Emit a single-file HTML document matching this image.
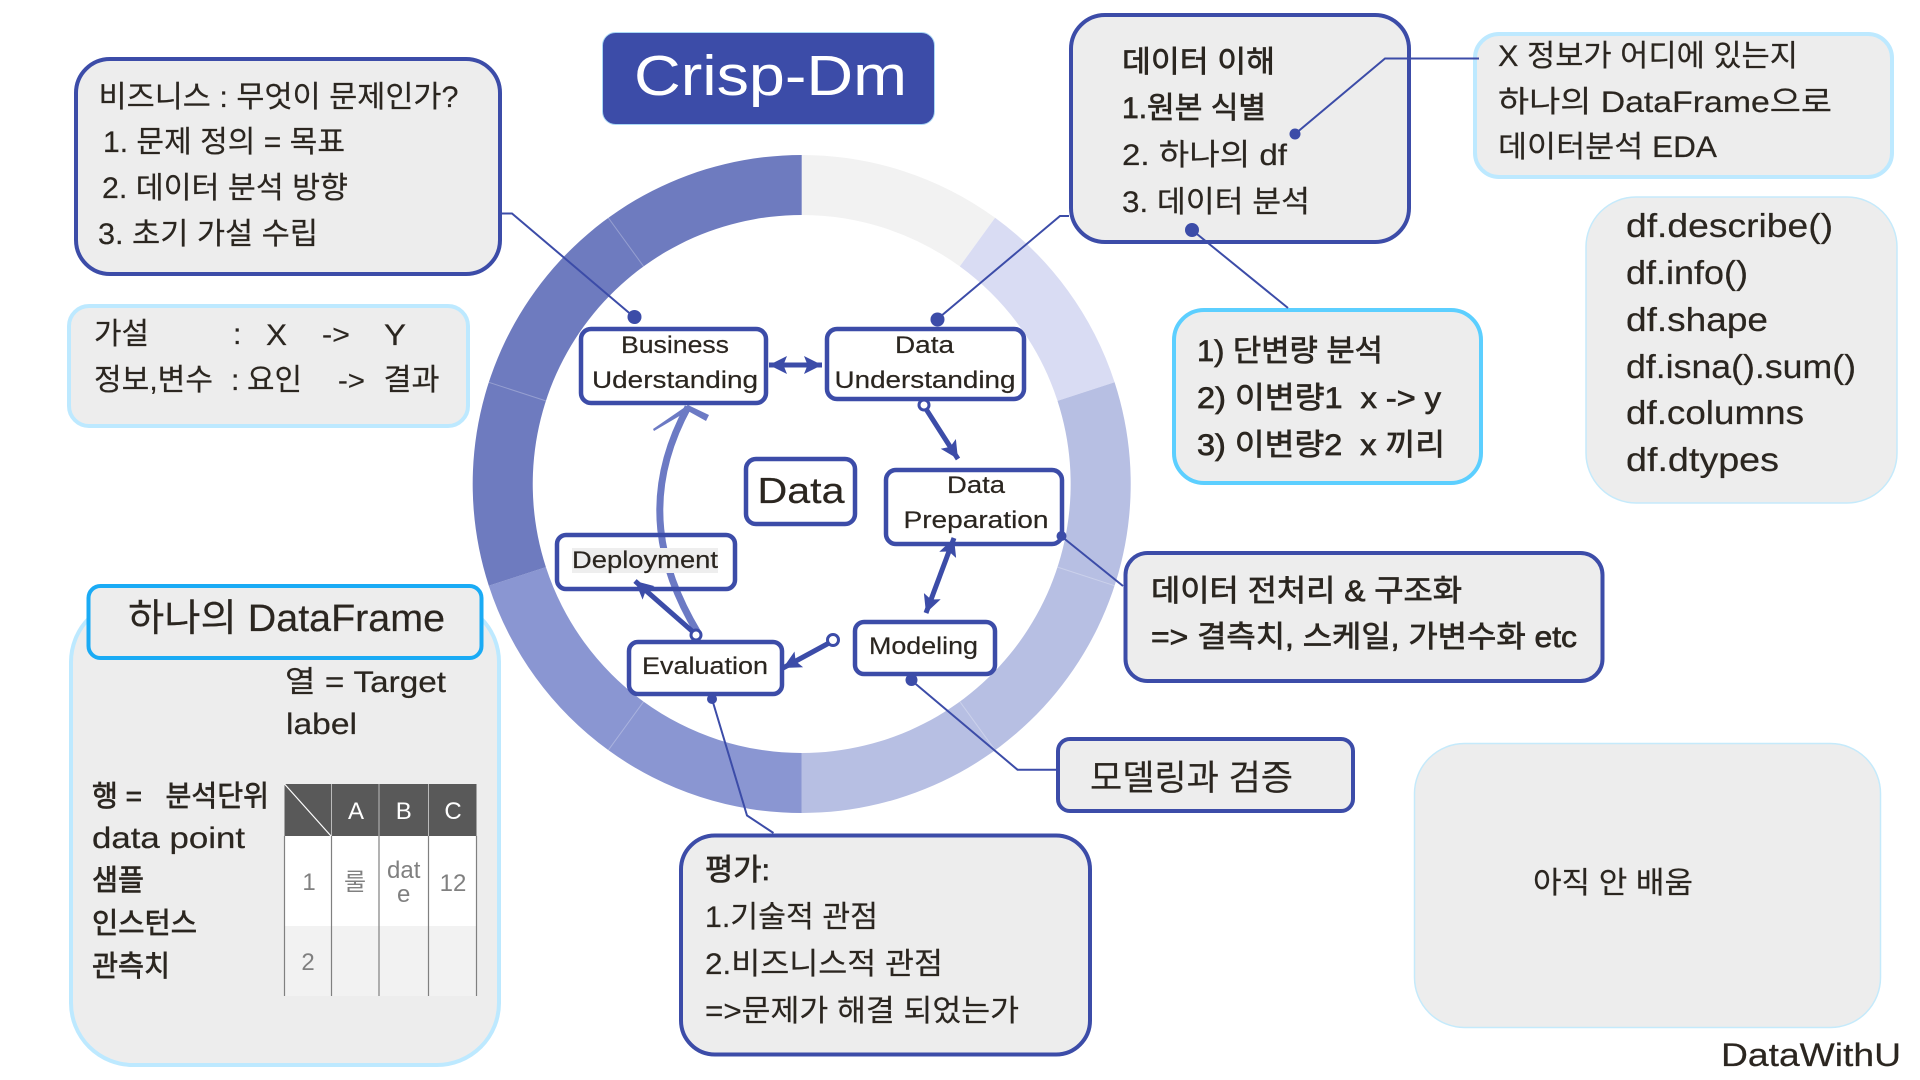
<!DOCTYPE html>
<html><head><meta charset="utf-8"><title>Crisp-Dm</title>
<style>
html,body{margin:0;padding:0;background:#fff;width:1920px;height:1080px;overflow:hidden}
svg{display:block}
text{font-family:"Liberation Sans","Noto Sans CJK KR",sans-serif;fill:#2b2620;white-space:pre;stroke:#2b2620;stroke-width:.2px}
.b{stroke:#2b2620;stroke-width:.7px}
.n{fill:#fff;stroke:#3c4ca8;stroke-width:4.5}
.c{fill:#ededed;stroke:#3c4ca8;stroke-width:4}
.l{fill:#ededed;stroke:#bde9ff;stroke-width:4}
.t{fill:#ededed;stroke:#c5eafb;stroke-width:1.5}
.w{fill:none;stroke:#3c4ca8;stroke-width:2}
.a{fill:none;stroke:#3c4ca8;stroke-width:5}
.d{fill:#3c4ca8}
.o{fill:#fff;stroke:#3c4ca8;stroke-width:3}
.g{stroke:#808080;stroke-width:1.2}
.s{stroke:#fff;stroke-opacity:.28;stroke-width:1}
.nf{stroke:none}
</style></head><body>
<svg width="1920" height="1080" viewBox="0 0 1920 1080" xmlns="http://www.w3.org/2000/svg">
<defs>
<marker id="h" viewBox="0 0 10 10" refX="10" refY="5" markerWidth="20" markerHeight="18" markerUnits="userSpaceOnUse" orient="auto-start-reverse"><path d="M0 0L10 5L0 10L2 5z" fill="#3c4ca8"/></marker>
</defs>

<!-- ring -->
<g transform="translate(.7 0)">
<path fill="#f2f2f2" d="M801 155A329 329 0 0 1 994.4 217.8L959.1 266.4A269 269 0 0 0 801 215Z"/>
<path fill="#d9dcf3" d="M994.4 217.8A329 329 0 0 1 1113.9 382.3L1056.8 400.9A269 269 0 0 0 959.1 266.4Z"/>
<path fill="#b7bfe3" d="M1113.9 382.3A329 329 0 0 1 801 813L801 753A269 269 0 0 0 1056.8 400.9Z"/>
<path fill="#8a96d2" d="M801 813A329 329 0 0 1 488.1 585.7L545.2 567.1A269 269 0 0 0 801 753Z"/>
<path fill="#6e7bbf" d="M488.1 585.7A329 329 0 0 1 801 155L801 215A269 269 0 0 0 545.2 567.1Z"/>
<line class="s" x1="1113.9" y1="585.7" x2="1056.8" y2="567.1"/>
<line class="s" x1="994.4" y1="750.2" x2="959.1" y2="701.6"/>
<line class="s" x1="607.6" y1="750.2" x2="642.9" y2="701.6"/>
<line class="s" x1="488.1" y1="382.3" x2="545.2" y2="400.9"/>
<line class="s" x1="607.6" y1="217.8" x2="642.9" y2="266.4"/>
</g>

<!-- title -->
<rect x="602.5" y="32.5" width="332" height="92" rx="13" fill="#3c4ca8" stroke="#a9d8f5" stroke-width="1"/>
<text class="nf" x="634" y="95" font-size="57" style="fill:#fff" textLength="273" lengthAdjust="spacingAndGlyphs">Crisp-Dm</text>

<!-- callouts -->
<rect class="c" x="76" y="59" width="424" height="215" rx="34"/>
<text x="98.5" y="107" font-size="30" textLength="360" lengthAdjust="spacingAndGlyphs">비즈니스 : 무엇이 문제인가?</text>
<text x="103" y="152" font-size="30" textLength="242" lengthAdjust="spacingAndGlyphs">1. 문제 정의 = 목표</text>
<text x="102" y="198" font-size="30" textLength="246" lengthAdjust="spacingAndGlyphs">2. 데이터 분석 방향</text>
<text x="98" y="244" font-size="30" textLength="220" lengthAdjust="spacingAndGlyphs">3. 초기 가설 수립</text>

<rect class="l" x="69" y="306" width="399" height="120" rx="20"/>
<text x="94" y="344" font-size="30" textLength="55" lengthAdjust="spacingAndGlyphs">가설</text>
<text x="233" y="344" font-size="30">:</text>
<text x="266" y="345" font-size="30" textLength="21" lengthAdjust="spacingAndGlyphs">X</text>
<text x="322" y="344" font-size="28" textLength="28" lengthAdjust="spacingAndGlyphs">-&gt;</text>
<text x="384" y="345" font-size="30" textLength="22" lengthAdjust="spacingAndGlyphs">Y</text>
<text x="94" y="390" font-size="30" textLength="119" lengthAdjust="spacingAndGlyphs">정보,변수</text>
<text x="231" y="390" font-size="30">:</text>
<text x="247" y="390" font-size="30" textLength="55" lengthAdjust="spacingAndGlyphs">요인</text>
<text x="338" y="390" font-size="28" textLength="27" lengthAdjust="spacingAndGlyphs">-&gt;</text>
<text x="383.5" y="390" font-size="30" textLength="56" lengthAdjust="spacingAndGlyphs">결과</text>

<rect class="c" x="1071" y="15" width="338" height="227" rx="34"/>
<text class="b" x="1122" y="72" font-size="30" textLength="153" lengthAdjust="spacingAndGlyphs">데이터 이해</text>
<text class="b" x="1122" y="118" font-size="30" textLength="144" lengthAdjust="spacingAndGlyphs">1.원본 식별</text>
<text x="1122" y="165" font-size="30" textLength="165" lengthAdjust="spacingAndGlyphs">2. 하나의 df</text>
<text x="1122" y="212" font-size="30" textLength="188" lengthAdjust="spacingAndGlyphs">3. 데이터 분석</text>

<rect class="l" x="1475" y="34" width="417" height="143" rx="24"/>
<text x="1498" y="66" font-size="30" textLength="300" lengthAdjust="spacingAndGlyphs">X 정보가 어디에 있는지</text>
<text x="1498" y="112" font-size="30" textLength="334" lengthAdjust="spacingAndGlyphs">하나의 DataFrame으로</text>
<text x="1498" y="157" font-size="30" textLength="219" lengthAdjust="spacingAndGlyphs">데이터분석 EDA</text>

<rect class="t" x="1586" y="197" width="311" height="306" rx="50"/>
<text x="1626" y="237" font-size="33" textLength="207" lengthAdjust="spacingAndGlyphs">df.describe()</text>
<text x="1626" y="284" font-size="33" textLength="122" lengthAdjust="spacingAndGlyphs">df.info()</text>
<text x="1626" y="331" font-size="33" textLength="142" lengthAdjust="spacingAndGlyphs">df.shape</text>
<text x="1626" y="378" font-size="33" textLength="230" lengthAdjust="spacingAndGlyphs">df.isna().sum()</text>
<text x="1626" y="424" font-size="33" textLength="178" lengthAdjust="spacingAndGlyphs">df.columns</text>
<text x="1626" y="471" font-size="33" textLength="153" lengthAdjust="spacingAndGlyphs">df.dtypes</text>

<rect x="1174" y="310" width="307" height="173" rx="30" fill="#ededed" stroke="#5ccfff" stroke-width="4"/>
<text class="b" x="1197" y="361" font-size="30" textLength="186" lengthAdjust="spacingAndGlyphs">1) 단변량 분석</text>
<text class="b" x="1197" y="408" font-size="30" textLength="244" lengthAdjust="spacingAndGlyphs">2) 이변량1  x -&gt; y</text>
<text class="b" x="1197" y="455" font-size="30" textLength="248" lengthAdjust="spacingAndGlyphs">3) 이변량2  x 끼리</text>

<rect class="c" x="1125.5" y="553" width="477" height="128" rx="22"/>
<text class="b" x="1151" y="601" font-size="30" textLength="311" lengthAdjust="spacingAndGlyphs">데이터 전처리 &amp; 구조화</text>
<text class="b" x="1151" y="647" font-size="30" textLength="426" lengthAdjust="spacingAndGlyphs">=&gt; 결측치, 스케일, 가변수화 etc</text>

<rect class="c" x="1058" y="739" width="295" height="72" rx="12"/>
<text x="1090" y="790" font-size="35" textLength="203" lengthAdjust="spacingAndGlyphs">모델링과 검증</text>

<rect class="c" x="681" y="835.5" width="409" height="219" rx="34"/>
<text class="b" x="705" y="880" font-size="30" textLength="65" lengthAdjust="spacingAndGlyphs">평가:</text>
<text x="705" y="927" font-size="30" textLength="173" lengthAdjust="spacingAndGlyphs">1.기술적 관점</text>
<text x="705" y="974" font-size="30" textLength="238" lengthAdjust="spacingAndGlyphs">2.비즈니스적 관점</text>
<text x="705" y="1021" font-size="30" textLength="314" lengthAdjust="spacingAndGlyphs">=&gt;문제가 해결 되었는가</text>

<rect class="t" x="1414.5" y="743.5" width="466" height="284" rx="50"/>
<text x="1533" y="893" font-size="30" textLength="160" lengthAdjust="spacingAndGlyphs">아직 안 배움</text>
<text x="1721" y="1066" font-size="32" textLength="180" lengthAdjust="spacingAndGlyphs">DataWithU</text>

<!-- dataframe -->
<rect class="l" x="71" y="600" width="428" height="465" rx="62"/>
<rect x="88.5" y="586" width="393" height="72" rx="12" fill="#ededed" stroke="#1aabf5" stroke-width="4"/>
<text x="128" y="631" font-size="38" textLength="317" lengthAdjust="spacingAndGlyphs">하나의 DataFrame</text>
<text x="285" y="692" font-size="30" textLength="161" lengthAdjust="spacingAndGlyphs">열 = Target</text>
<text x="286" y="734" font-size="30" textLength="71" lengthAdjust="spacingAndGlyphs">label</text>
<text class="b" x="92" y="806" font-size="29" textLength="177" lengthAdjust="spacingAndGlyphs">행 =   분석단위</text>
<text x="92" y="848" font-size="30" textLength="153" lengthAdjust="spacingAndGlyphs">data point</text>
<text class="b" x="92" y="890" font-size="29" textLength="52" lengthAdjust="spacingAndGlyphs">샘플</text>
<text class="b" x="92" y="933" font-size="29" textLength="105" lengthAdjust="spacingAndGlyphs">인스턴스</text>
<text class="b" x="92" y="976" font-size="29" textLength="78" lengthAdjust="spacingAndGlyphs">관측치</text>

<!-- table -->
<rect x="284.5" y="784" width="192" height="52" fill="#595959"/>
<rect x="284.5" y="836" width="192" height="90" fill="#fff"/>
<rect x="284.5" y="926" width="192" height="70" fill="#f2f2f2"/>
<g class="g">
<line x1="284.5" y1="836" x2="284.5" y2="996"/><line x1="331.5" y1="836" x2="331.5" y2="996"/>
<line x1="379" y1="836" x2="379" y2="996"/><line x1="428.5" y1="836" x2="428.5" y2="996"/><line x1="476.5" y1="836" x2="476.5" y2="996"/>
</g>
<g stroke="#bbb" stroke-width="1"><line x1="331.5" y1="784" x2="331.5" y2="836"/><line x1="379" y1="784" x2="379" y2="836"/><line x1="428.5" y1="784" x2="428.5" y2="836"/></g>
<line x1="284.5" y1="784" x2="331" y2="836" stroke="#fff" stroke-width="1.2"/>
<g font-size="24" text-anchor="middle">
<text class="nf" x="356" y="819" style="fill:#fff">A</text><text class="nf" x="403.7" y="819" style="fill:#fff">B</text><text class="nf" x="453" y="819" style="fill:#fff">C</text>
<text class="nf" style="fill:#808080" x="309" y="890">1</text>
<text class="nf" style="fill:#808080" x="355" y="890">룰</text>
<text class="nf" style="fill:#808080" x="403.7" y="878">dat</text>
<text class="nf" style="fill:#808080" x="403.7" y="902">e</text>
<text class="nf" style="fill:#808080" x="453" y="891">12</text>
<text class="nf" style="fill:#808080" x="308" y="970">2</text>
</g>

<!-- big curved arrow -->
<path d="M698 633C660 570 640 495 688 407" fill="none" stroke="#6c7ac4" stroke-width="7"/>
<polygon points="688,405 709,415 706,421 688,411 654,431 653,429" fill="#6c7ac4"/>

<!-- nodes -->
<rect class="n" x="581" y="329" width="185" height="74" rx="10"/>
<text x="621" y="353" font-size="24" textLength="108" lengthAdjust="spacingAndGlyphs">Business</text>
<text x="592" y="388" font-size="24" textLength="166" lengthAdjust="spacingAndGlyphs">Uderstanding</text>

<rect class="n" x="827" y="329" width="197" height="70" rx="10"/>
<text x="895" y="353" font-size="24" textLength="59" lengthAdjust="spacingAndGlyphs">Data</text>
<text x="834.5" y="388" font-size="24" textLength="181" lengthAdjust="spacingAndGlyphs">Understanding</text>

<rect class="n" x="746" y="459" width="109" height="65" rx="10"/>
<text x="757.5" y="503" font-size="36" textLength="87" lengthAdjust="spacingAndGlyphs">Data</text>

<rect class="n" x="886" y="470" width="176" height="74" rx="10"/>
<text x="947" y="493" font-size="24" textLength="58" lengthAdjust="spacingAndGlyphs">Data</text>
<text x="903.5" y="528" font-size="24" textLength="145" lengthAdjust="spacingAndGlyphs">Preparation</text>

<rect x="557" y="535" width="178" height="54" rx="9" fill="none" stroke="#3c4ca8" stroke-width="4.5"/>
<rect x="572" y="548" width="146" height="25" fill="#eee"/>
<text x="572" y="568" font-size="24" textLength="146" lengthAdjust="spacingAndGlyphs">Deployment</text>

<rect class="n" x="629" y="642" width="153" height="52" rx="9"/>
<text x="642" y="674" font-size="24" textLength="126" lengthAdjust="spacingAndGlyphs">Evaluation</text>

<rect class="n" x="855" y="622" width="140" height="52" rx="9"/>
<text x="869" y="654" font-size="24" textLength="109" lengthAdjust="spacingAndGlyphs">Modeling</text>

<!-- flow arrows -->
<line class="a" x1="769" y1="365" x2="822" y2="365" marker-start="url(#h)" marker-end="url(#h)"/>
<line class="a" x1="926" y1="409" x2="958" y2="459" marker-end="url(#h)"/>
<line class="a" x1="954" y1="538" x2="926" y2="613" marker-start="url(#h)" marker-end="url(#h)"/>
<line class="a" x1="829" y1="643" x2="783" y2="668" marker-end="url(#h)"/>
<line class="a" x1="692" y1="631" x2="635" y2="581" marker-end="url(#h)"/>
<circle class="o" cx="924" cy="405" r="5"/>
<circle class="o" cx="833" cy="640" r="5.5"/>
<circle class="o" cx="696" cy="635" r="5"/>

<!-- callout leader lines -->
<polyline class="w" points="502,213.5 512,213.5 634,317"/>
<polyline class="w" points="1069,216 1060,216 937.5,319"/>
<polyline class="w" points="1192,230 1288,308"/>
<polyline class="w" points="1295,134 1385,58.5 1479,58.5"/>
<polyline class="w" points="1061,536 1123,586"/>
<polyline class="w" points="911,680 1017.5,769.7 1057,769.7"/>
<polyline class="w" points="712,699 747,815.5 773.5,833"/>
<circle class="d" cx="634.5" cy="317" r="7"/>
<circle class="d" cx="937.5" cy="319.5" r="7"/>
<circle class="d" cx="1192" cy="230" r="7"/>
<circle class="d" cx="1295" cy="134" r="5.5"/>
<circle class="d" cx="1061.5" cy="536" r="5"/>
<circle class="d" cx="911.5" cy="680" r="6"/>
<circle class="d" cx="712" cy="699" r="5"/>
</svg>
</body></html>
